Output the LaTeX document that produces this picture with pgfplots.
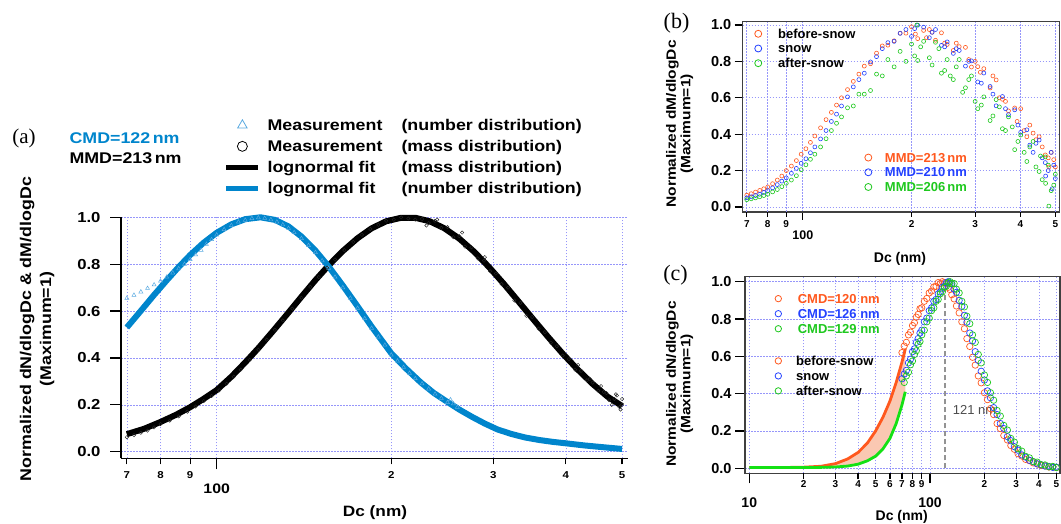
\documentclass[border=0pt]{standalone}
\usepackage{fontspec}
\setmainfont{Liberation Sans}
\newfontfamily\fA{Liberation Sans}[FakeStretch=1.15]
\newfontfamily\fS{Liberation Serif}
\usepackage{pgfplots}
\usepackage{pgfplotstable}
\pgfplotsset{compat=1.18}
\definecolor{ablue}{RGB}{0,133,204}
\definecolor{atri}{RGB}{90,170,225}
\definecolor{orng}{RGB}{255,88,30}
\definecolor{bblue}{RGB}{35,65,255}
\definecolor{ggreen}{RGB}{30,200,30}
\definecolor{gfit}{RGB}{20,225,20}
\definecolor{gridc}{RGB}{150,150,250}
\definecolor{peach}{RGB}{250,200,178}
\newcommand\fsz[2]{\fontsize{#1}{#2}\selectfont}
\pgfplotstableread{
x o g
10 0.004 0.004
15 0.004 0.004
20 0.006 0.004
25 0.011 0.005
30 0.025 0.007
35 0.05 0.012
40 0.085 0.022
45 0.135 0.04
50 0.20 0.065
55 0.275 0.105
60 0.36 0.16
65 0.46 0.24
70 0.57 0.34
73 0.64 0.41
}\fitc
\begin{document}
\begin{tikzpicture}[x=1pt,y=1pt]
\path[use as bounding box] (0,0) rectangle (1061,523);
%%%%%%%%%%%%%%%% (a)
\begin{axis}[
 scale only axis, xmode=log, tick align=outside,
 tick style={line width=1.3pt, black},
 minor xtick={}, grid=major,
 grid style={draw=gridc, dash pattern=on 1.5pt off 1.5pt, line width=0.6pt},
 legend cell align=left,
 at={(121pt,64.7pt)}, anchor=south west, width=507pt, height=241pt,
 xmin=68.4, xmax=512, ymin=-0.028, ymax=1.0, clip=false,
 axis x line*=bottom, axis y line*=left,
 axis line style={line width=1.6pt},
 major tick length=11pt,
 xtick={100}, xticklabels={\rule{0pt}{21pt}100},
 xticklabel style={font=\fA\bfseries\fsz{13.8}{15}},
 extra x ticks={70,80,90,200,300,400,500},
 extra x tick labels={7,8,9,2,3,4,5},
 extra x tick style={major tick length=6pt, grid=major, xticklabel style={font=\fA\bfseries\fsz{10}{12}, yshift=-4pt}},
 ytick={0,0.2,0.4,0.6,0.8,1}, yticklabels={0.0,0.2,0.4,0.6,0.8,1.0},
 yticklabel style={font=\fA\bfseries\fsz{14.5}{16}, xshift=-6pt},
 legend style={draw=none, fill=none, inner sep=0pt, outer sep=0pt, anchor=north west, at={(0.2029,1.4164)}, row sep=4.3pt, column sep=4.7pt, font=\fA\bfseries\fsz{15.5}{15}},
]
\addlegendimage{legend image code/.code={\path[draw=none] (0pt,0pt) -- (32pt,0pt); \draw[only marks, mark=triangle, mark size=5.5pt, mark options={line width=0.8pt, draw=atri}] plot coordinates {(16pt,0pt)};}}
\addlegendentry{\strut\makebox[134pt][l]{Measurement}(number distribution)}
\addlegendimage{legend image code/.code={\path[draw=none] (0pt,0pt) -- (32pt,0pt); \draw[only marks, mark=o, mark size=5pt, mark options={line width=0.8pt, draw=black}] plot coordinates {(16pt,0pt)};}}
\addlegendentry{\strut\makebox[134pt][l]{Measurement}(mass distribution)}
\addlegendimage{legend image code/.code={\draw[black, line width=5pt] (0pt,0pt) -- (32pt,0pt);}}
\addlegendentry{\strut\makebox[134pt][l]{lognormal fit}(mass distribution)}
\addlegendimage{legend image code/.code={\draw[ablue, line width=5pt] (0pt,0pt) -- (32pt,0pt);}}
\addlegendentry{\strut\makebox[134pt][l]{lognormal fit}(number distribution)}
\addplot[only marks, mark=triangle, mark size=2.3pt, mark options={draw=atri, line width=0.5pt}, forget plot] coordinates {
(70,.655)(72,.668)(74,.682)(76,.697)(78,.712)(80,.728)(82,.745)(84,.763)(86,.781)(88,.80)(90,.82)(92,.84)(94,.86)(96,.885)(98,.905)(100,.925)(103,.948)(106,.965)(109,.98)(112,.988)(115,.995)(118,.998)(121,.996)(124,.99)(127,.98)(130,.968)(133,.953)(136,.935)(140,.91)(144,.88)(148,.85)(152,.815)(156,.783)(160,.745)(165,.70)(170,.655)(175,.612)(180,.568)(185,.527)(190,.49)(195,.455)(200,.413)(205,.387)(210,.36)(215,.335)(220,.312)(226,.29)(232,.268)(238,.246)(244,.228)(250,.21)(253,.222)(256,.205)(260,.19)};
\addplot[only marks, mark=o, mark size=1.7pt, mark options={draw=black!85, line width=0.45pt}, forget plot] coordinates {
(70,.062)(72,.071)(74,.081)(76,.09)(78,.104)(80,.118)(83,.133)(86,.151)(89,.171)(92,.193)(95,.216)(98,.238)(101,.262)(104,.29)(107,.32)(110,.35)(114,.392)(118,.435)(122,.478)(126,.52)(130,.56)(135,.61)(140,.657)(145,.703)(150,.745)(155,.785)(160,.82)(166,.86)(172,.895)(178,.925)(184,.95)(190,.968)(196,.985)(202,.99)(208,1.0)(214,.995)(220,.99)(226,.993)(232,.975)(238,.985)(244,.955)(250,.958)(256,.915)(262,.92)(268,.875)(275,.872)(282,.825)(289,.815)(296,.77)(303,.76)(310,.715)(318,.70)(326,.645)(334,.635)(342,.58)(350,.575)(359,.525)(368,.51)(377,.465)(386,.45)(395,.41)(405,.395)(415,.35)(425,.345)(435,.305)(445,.295)(455,.26)(465,.255)(475,.22)(485,.225)(495,.19)(500,.2)
(490,.24)(480,.20)(470,.25)(500,.225)(497,.18)(420,.37)(440,.31)(230,.965)(240,.99)(265,.935)(290,.83)(460,.28)(488,.245)};
\addplot[black, line width=6pt, forget plot] coordinates {
(70,.075)(75,.098)(80,.127)(85,.157)(90,.19)(95,.226)(100,.263)(106,.32)(112,.381)(118,.442)(125,.514)(132,.584)(140,.661)(148,.732)(156,.795)(165,.856)(175,.911)(185,.953)(196,.983)(208,.998)(220,.998)(233,.983)(247,.953)(262,.909)(278,.853)(295,.787)(313,.715)(332,.639)(352,.563)(373,.489)(396,.4155)(420,.349)(445,.289)(472,.235)(500,.195)};
\addplot[ablue, line width=6pt, forget plot] coordinates {
(70,.53)(74,.601)(78,.669)(82,.731)(86,.788)(90,.839)(95,.892)(100,.934)(106,.970)(112,.992)(119,1.0)(126,.989)(133,.961)(140,.918)(148,.858)(156,.79)(165,.709)(175,.62)(185,.534)(200,.42)(212,.355)(225,.295)(237,.25)(249,.215)(262,.18)(276,.148)(290,.12)(305,.095)(322,.076)(340,.061)(360,.05)(380,.042)(400,.036)(430,.027)(465,.019)(500,.012)};
\end{axis}
%%%%%%%%%%%%%%%% (b)
\begin{axis}[
 scale only axis, xmode=log, tick align=outside,
 tick style={line width=1.3pt, black},
 minor xtick={}, grid=major,
 grid style={draw=gridc, dash pattern=on 1.5pt off 1.5pt, line width=0.6pt},
 legend cell align=left,
 at={(742.7pt,311pt)}, anchor=south west, width=316.6pt, height=190.3pt,
 xmin=68.2, xmax=512.9, ymin=-0.0275, ymax=1.018,
 axis line style={line width=1.4pt, black!75}, tick pos=left,
 major tick length=8pt,
 xtick={100}, xticklabels={\rule{0pt}{16pt}100},
 xticklabel style={font=\bfseries\fsz{12.5}{14}},
 extra x ticks={70,80,90,200,300,400,500},
 extra x tick labels={7,8,9,2,3,4,5},
 extra x tick style={major tick length=5pt, grid=major, xticklabel style={font=\bfseries\fsz{10}{12}}},
 ytick={0,0.2,0.4,0.6,0.8,1}, yticklabels={0.0,0.2,0.4,0.6,0.8,1.0},
 yticklabel style={font=\bfseries\fsz{14.5}{16}},
 legend style={draw=none, fill=none, inner sep=0pt, outer sep=0pt, anchor=north west, at={(0.038,0.9785)}, row sep=-1.3pt, column sep=14.5pt, font=\bfseries\fsz{13}{15}},
]
\addlegendimage{legend image code/.code={\draw[only marks, mark=o, mark size=3.5pt, mark options={draw=orng, line width=0.8pt}] plot coordinates {(0pt,0pt)};}}
\addlegendentry{\strut before-snow}
\addlegendimage{legend image code/.code={\draw[only marks, mark=o, mark size=3.5pt, mark options={draw=bblue, line width=0.8pt}] plot coordinates {(0pt,0pt)};}}
\addlegendentry{\strut snow}
\addlegendimage{legend image code/.code={\draw[only marks, mark=o, mark size=3.5pt, mark options={draw=ggreen, line width=0.8pt}] plot coordinates {(0pt,0pt)};}}
\addlegendentry{\strut after-snow}
\addplot[only marks, mark=o, mark size=2pt, mark options={draw=orng, line width=0.6pt}, forget plot] coordinates {
(70,.065)(72,.073)(74,.082)(76,.091)(78,.100)(80,.11)(82.5,.128)(85,.148)(87.5,.17)(90,.20)(93,.225)(96,.255)(99,.29)(102,.32)(105,.355)(108,.39)(112,.435)(116,.48)(120,.52)(124,.56)(128,.60)(133,.645)(138,.69)(143,.73)(148,.774)(154,.787)(160,.845)(166,.885)(172,.889)(179,.913)(186,.955)(193,.955)(200,.99)(208,.925)(216,.97)(224,.975)(233,.916)(242,.957)(251,.893)(261,.86)(271,.881)(282,.877)(293,.769)(305,.771)(317,.76)(330,.654)(343,.698)(357,.592)(371,.528)(386,.544)(401,.54)(417,.386)(434,.406)(451,.386)(469,.286)(487,.30)(500,.22)
(205,.95)(220,.93)(228,.96)(247,.90)(266,.90)(288,.81)(300,.80)(310,.74)(336,.72)(350,.60)(364,.58)(392,.47)(410,.42)(425,.45)(442,.37)(460,.33)(478,.27)(480,.22)(495,.26)};
\addplot[only marks, mark=o, mark size=2pt, mark options={draw=bblue, line width=0.6pt}, forget plot] coordinates {
(70,.05)(72,.056)(74,.063)(76,.07)(78,.08)(80,.09)(82.5,.105)(85,.123)(87.5,.142)(90,.16)(93,.185)(96,.212)(99,.24)(102,.265)(105,.298)(108,.33)(112,.374)(116,.42)(120,.47)(124,.51)(128,.555)(133,.605)(138,.66)(143,.70)(148,.735)(154,.797)(160,.826)(166,.87)(172,.903)(179,.91)(186,.954)(193,.975)(200,.937)(208,.999)(216,.988)(224,.93)(233,.975)(242,.888)(251,.907)(261,.844)(271,.86)(282,.774)(293,.803)(305,.687)(317,.736)(330,.662)(343,.556)(357,.607)(371,.507)(386,.534)(401,.41)(417,.424)(434,.30)(451,.368)(469,.244)(487,.30)(500,.156)
(204,.98)(228,.96)(247,.88)(266,.87)(288,.80)(312,.68)(336,.62)(364,.54)(394,.45)(425,.34)(442,.35)(460,.27)(470,.17)(478,.20)(490,.10)(495,.23)};
\addplot[only marks, mark=o, mark size=2pt, mark options={draw=ggreen, line width=0.6pt}, forget plot] coordinates {
(70,.04)(72,.045)(74,.05)(76,.056)(78,.063)(80,.07)(82.5,.083)(85,.096)(87.5,.112)(90,.13)(93,.148)(96,.172)(99,.205)(102,.232)(105,.262)(108,.29)(112,.33)(116,.375)(120,.42)(124,.46)(128,.495)(133,.545)(138,.555)(143,.62)(148,.62)(154,.64)(160,.73)(166,.72)(172,.81)(179,.77)(186,.855)(193,.80)(200,.895)(208,.805)(216,.91)(224,.82)(233,.905)(242,.735)(251,.81)(261,.70)(271,.81)(282,.655)(293,.72)(305,.54)(317,.605)(330,.475)(343,.59)(357,.43)(371,.495)(386,.315)(401,.395)(417,.25)(434,.36)(451,.195)(469,.275)(487,.09)(500,.18)
(204,.83)(207,1.0)(212,.88)(228,.78)(238,.87)(247,.75)(256,.72)(266,.77)(277,.63)(288,.70)(300,.58)(312,.56)(336,.50)(350,.55)(364,.42)(380,.44)(394,.36)(410,.30)(425,.33)(442,.22)(455,.28)(460,.15)(470,.13)(478,.23)(480,.005)(495,.12)};
\end{axis}
\begin{axis}[scale only axis, xmode=log, hide axis,
 at={(742.7pt,311pt)}, anchor=south west, width=316.6pt, height=190.3pt,
 xmin=68.2, xmax=512.9, ymin=-0.0275, ymax=1.018,
 legend cell align=left,
 legend style={draw=none, fill=none, inner sep=0pt, outer sep=0pt, anchor=north west, at={(0.3857,0.328)}, row sep=-1.3pt, column sep=11.1pt, font=\bfseries\fsz{13}{15}},
]
\addlegendimage{legend image code/.code={\draw[only marks, mark=o, mark size=3.5pt, mark options={draw=orng, line width=0.8pt}] plot coordinates {(0pt,0pt)};}}
\addlegendentry{\strut\textcolor{orng}{MMD=213\,nm}}
\addlegendimage{legend image code/.code={\draw[only marks, mark=o, mark size=3.5pt, mark options={draw=bblue, line width=0.8pt}] plot coordinates {(0pt,0pt)};}}
\addlegendentry{\strut\textcolor{bblue}{MMD=210\,nm}}
\addlegendimage{legend image code/.code={\draw[only marks, mark=o, mark size=3.5pt, mark options={draw=ggreen, line width=0.8pt}] plot coordinates {(0pt,0pt)};}}
\addlegendentry{\strut\textcolor{ggreen}{MMD=206\,nm}}
\end{axis}
%%%%%%%%%%%%%%%% (c)
\begin{axis}[
 scale only axis, xmode=log, tick align=outside,
 tick style={line width=1.3pt, black},
 minor xtick={}, grid=major,
 grid style={draw=gridc, dash pattern=on 1.5pt off 1.5pt, line width=0.6pt},
 legend cell align=left,
 at={(745pt,49.7pt)}, anchor=south west, width=315pt, height=196.6pt,
 xmin=9.47, xmax=524, ymin=-0.0268, ymax=1.0268,
 axis line style={line width=1.4pt, black!75}, tick pos=left,
 major tick length=10pt,
 xtick={10,100}, xticklabels={\rule{0pt}{21pt}10,\rule{0pt}{21pt}100},
 xticklabel style={font=\bfseries\fsz{14}{16}},
 extra x ticks={20,30,40,50,60,70,80,90,200,300,400,500},
 extra x tick labels={2,3,4,5,6,7,8,9,2,3,4,5},
 extra x tick style={major tick length=6pt, grid=major, xticklabel style={font=\bfseries\fsz{10}{12}, yshift=2pt}},
 ytick={0,0.2,0.4,0.6,0.8,1}, yticklabels={0.0,0.2,0.4,0.6,0.8,1.0},
 yticklabel style={font=\bfseries\fsz{14.5}{16}},
 legend style={draw=none, fill=none, inner sep=0pt, outer sep=0pt, anchor=north west, at={(0.0956,0.930)}, row sep=-1.3pt, column sep=14.3pt, font=\bfseries\fsz{13}{15.5}},
]
\addlegendimage{legend image code/.code={\draw[only marks, mark=o, mark size=3.2pt, mark options={draw=orng, line width=0.8pt}] plot coordinates {(0pt,0pt)};}}
\addlegendentry{\strut\textcolor{orng}{CMD=120 nm}}
\addlegendimage{legend image code/.code={\draw[only marks, mark=o, mark size=3.2pt, mark options={draw=bblue, line width=0.8pt}] plot coordinates {(0pt,0pt)};}}
\addlegendentry{\strut\textcolor{bblue}{CMD=126 nm}}
\addlegendimage{legend image code/.code={\draw[only marks, mark=o, mark size=3.2pt, mark options={draw=ggreen, line width=0.8pt}] plot coordinates {(0pt,0pt)};}}
\addlegendentry{\strut\textcolor{ggreen}{CMD=129 nm}}
\addplot[fill=peach, draw=none, forget plot] coordinates {
(10,0.004)(15,0.004)(20,0.006)(25,0.011)(30,0.025)(35,0.05)(40,0.085)(45,0.135)(50,0.20)(55,0.275)(60,0.36)(65,0.46)(70,0.57)(73,0.64)
(73,0.41)(70,0.34)(65,0.24)(60,0.16)(55,0.105)(50,0.065)(45,0.04)(40,0.022)(35,0.012)(30,0.007)(25,0.005)(20,0.004)(15,0.004)(10,0.004)} -- cycle;
\addplot[orng, line width=2.8pt, forget plot] table[x=x,y=o] {\fitc};
\addplot[gfit, line width=2.8pt, forget plot] table[x=x,y=g] {\fitc};
\addplot[only marks, mark=o, mark size=3.2pt, mark options={draw=orng, line width=0.7pt}, forget plot] coordinates {
(70,.62)(72,.655)(74,.675)(76,.715)(78,.73)(80,.765)(82,.78)(84,.81)(86,.825)(88,.855)(90,.86)(93,.895)(96,.91)(99,.94)(102,.95)(105,.972)(108,.975)(111,.995)(114,.99)(117,1.0)(120,.995)(123,.99)(126,.97)(129,.958)(132,.93)(136,.908)(140,.87)(145,.833)(150,.785)(155,.748)(160,.695)(166,.653)(172,.595)(178,.553)(185,.495)(192,.458)(200,.405)(208,.368)(216,.32)(225,.288)(235,.24)(245,.213)(256,.176)(268,.152)(280,.122)(293,.102)(307,.078)(322,.066)(338,.048)(355,.041)(373,.029)(392,.023)(412,.015)(433,.013)(455,.007)(478,.007)(500,.004)};
\addplot[only marks, mark=o, mark size=3.2pt, mark options={draw=bblue, line width=0.7pt}, forget plot] coordinates {
(70,.48)(72,.505)(74,.525)(76,.565)(78,.585)(80,.625)(82,.64)(84,.675)(86,.695)(88,.725)(90,.74)(93,.785)(96,.805)(99,.845)(102,.86)(105,.895)(108,.905)(111,.935)(114,.945)(117,.97)(120,.975)(123,.995)(126,1.0)(129,.99)(132,.988)(136,.96)(140,.943)(145,.90)(150,.868)(155,.82)(160,.783)(166,.725)(172,.683)(178,.625)(185,.578)(192,.52)(200,.473)(208,.415)(216,.378)(225,.325)(235,.288)(245,.24)(256,.213)(268,.17)(280,.148)(293,.116)(307,.097)(322,.072)(338,.06)(355,.043)(373,.035)(392,.024)(412,.019)(433,.012)(455,.01)(478,.005)(500,.006)};
\addplot[only marks, mark=o, mark size=3.2pt, mark options={draw=ggreen, line width=0.7pt}, forget plot] coordinates {
(72,.46)(74,.495)(76,.515)(78,.555)(80,.575)(82,.61)(84,.63)(86,.665)(88,.68)(90,.715)(93,.74)(96,.785)(99,.805)(102,.845)(105,.86)(108,.895)(111,.905)(114,.935)(117,.945)(120,.97)(123,.975)(126,.995)(129,1.0)(132,.99)(136,.99)(140,.96)(145,.94)(150,.895)(155,.865)(160,.815)(166,.775)(172,.715)(178,.675)(185,.61)(192,.565)(200,.50)(208,.46)(216,.405)(225,.365)(235,.31)(245,.28)(256,.23)(268,.205)(280,.16)(293,.14)(307,.105)(322,.092)(338,.064)(355,.056)(373,.036)(392,.033)(412,.019)(433,.018)(455,.008)(478,.01)(500,.004)};
\addplot[draw=gray!85, line width=2.6pt, dash pattern=on 5pt off 3pt, forget plot] coordinates {(121,0) (121,0.955)};
\node[anchor=west, font=\fsz{13}{15}, text=black!70] at (axis cs:128,0.31) {121 nm};
\end{axis}
\begin{axis}[scale only axis, xmode=log, hide axis,
 at={(745pt,49.7pt)}, anchor=south west, width=315pt, height=196.6pt,
 xmin=9.47, xmax=524, ymin=-0.0268, ymax=1.0268,
 legend cell align=left,
 legend style={draw=none, fill=none, inner sep=0pt, outer sep=0pt, anchor=north west, at={(0.0956,0.613)}, row sep=-1.3pt, column sep=12.6pt, font=\bfseries\fsz{13}{15.4}},
]
\addlegendimage{legend image code/.code={\draw[only marks, mark=o, mark size=3.2pt, mark options={draw=orng, line width=0.8pt}] plot coordinates {(0pt,0pt)};}}
\addlegendentry{\strut before-snow}
\addlegendimage{legend image code/.code={\draw[only marks, mark=o, mark size=3.2pt, mark options={draw=bblue, line width=0.8pt}] plot coordinates {(0pt,0pt)};}}
\addlegendentry{\strut snow}
\addlegendimage{legend image code/.code={\draw[only marks, mark=o, mark size=3.2pt, mark options={draw=ggreen, line width=0.8pt}] plot coordinates {(0pt,0pt)};}}
\addlegendentry{\strut after-snow}
\end{axis}
%%%%%%%%%%%%%%%% labels
\node[font=\fS\fsz{21}{24}] at (24,385) {(a)};
\node[anchor=west, font=\fA\bfseries\fsz{15.5}{18}, text=ablue] at (66,385) {CMD=122\,nm};
\node[anchor=west, font=\fA\bfseries\fsz{15.5}{18}] at (66,365) {MMD=213\,nm};
\node[rotate=90, align=center, font=\fA\bfseries\fsz{15.5}{20}] at (37,194) {Normalized dN/dlogDc \& dM/dlogDc\\(Maximum=1)};
\node[font=\fA\bfseries\fsz{15}{18}] at (375,10) {Dc (nm)};
\node[font=\fS\fsz{22}{24}] at (676.5,500) {(b)};
\node[rotate=90, align=center, font=\fA\bfseries\fsz{13.5}{14.5}] at (679.6,399) {Normalized dM/dlogDc\\(Maximum=1)};
\node[font=\bfseries\fsz{14}{16}] at (900,264) {Dc (nm)};
\node[font=\fS\fsz{22}{24}] at (675.5,248) {(c)};
\node[rotate=90, align=center, font=\fA\bfseries\fsz{13.5}{14.5}] at (679.6,139) {Normalized dN/dlogDc\\(Maximum=1)};
\node[font=\bfseries\fsz{14}{16}] at (901.7,6.3) {Dc (nm)};
\end{tikzpicture}
\end{document}
